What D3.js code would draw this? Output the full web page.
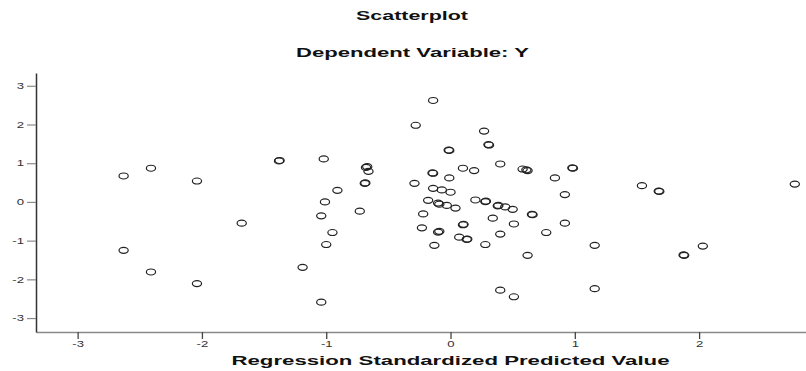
<!DOCTYPE html>
<html>
<head>
<meta charset="utf-8">
<script src="https://cdn.jsdelivr.net/npm/d3@7"></script>
<style>
  html, body { margin: 0; padding: 0; background: #fff; }
  svg { display: block; font-family: "Liberation Sans", Arial, sans-serif; }
</style>
</head>
<body>
<div id="chart"></div>
<script>
// Regression standardized predicted value (x) vs standardized residual (y)
const predicted = [
  -2.63, -2.41, -2.04, -1.38, -1.375, -1.68, -2.63, -2.41, -2.04, -1.19,
  -0.14, -0.28, 0.27, 0.31, 0.305, -0.01, -0.015, -1.02, -0.68, -0.67,
  -0.66, 0.10, 0.19, 0.40, 0.58, 0.62, 0.61, 0.84, -0.14, -0.145,
  -0.01, -0.29, -0.69, -0.685, -0.91, -0.14, -0.07, 0.00, -1.01, -0.73,
  -1.04, -0.18, -0.09, -0.10, -0.03, 0.04, 0.20, 0.28, 0.285, 0.38,
  0.385, 0.44, 0.50, 0.66, 0.655, 0.34, 0.51, 0.77, -0.22, 0.10,
  0.105, -0.23, -0.10, -0.09, 0.07, 0.13, 0.135, 0.40, -0.95, -1.00,
  -0.13, 0.28, 0.62, -1.04, 0.40, 0.51, 0.985, 0.98, 0.92, 1.54,
  1.68, 1.675, 2.77, 0.92, 1.16, 2.03, 1.88, 1.875, 1.16
];
const residual = [
  0.67, 0.87, 0.54, 1.06, 1.07, -0.55, -1.25, -1.81, -2.11, -1.69,
  2.62, 1.98, 1.83, 1.47, 1.48, 1.33, 1.34, 1.11, 0.89, 0.91,
  0.79, 0.87, 0.81, 0.98, 0.85, 0.81, 0.83, 0.62, 0.74, 0.75,
  0.62, 0.48, 0.48, 0.49, 0.30, 0.35, 0.31, 0.25, 0.00, -0.24,
  -0.36, 0.04, -0.06, -0.03, -0.09, -0.16, 0.05, 0.01, 0.02, -0.10,
  -0.09, -0.13, -0.19, -0.33, -0.32, -0.42, -0.57, -0.79, -0.31, -0.59,
  -0.58, -0.67, -0.78, -0.76, -0.91, -0.97, -0.96, -0.83, -0.79, -1.10,
  -1.12, -1.10, -1.38, -2.59, -2.28, -2.45, 0.87, 0.88, 0.19, 0.42,
  0.27, 0.28, 0.46, -0.55, -1.12, -1.14, -1.38, -1.37, -2.24
];
const xTicks = [-3, -2, -1, 0, 1, 2];
const yTicks = [-3, -2, -1, 0, 1, 2, 3];

const width = 806, height = 371;
const labelStretch = 1.55; // the source image is stretched horizontally

const svg = d3.select('#chart').append('svg')
  .attr('width', width)
  .attr('height', height);

const x = d3.scaleLinear().domain([-3.335, 2.86]).range([36, 806]);
const y = d3.scaleLinear().domain([-3.36, 3.33]).range([332, 73]);
const fmt = d => String(d); // plain hyphen minus, like the original

// Titles
function stretchedText(cx, cy, txt, k) {
  svg.append('text')
    .attr('transform', `translate(${cx},${cy}) scale(${k},1)`)
    .attr('text-anchor', 'middle')
    .attr('font-size', '13px')
    .attr('font-weight', 'bold')
    .attr('fill', '#111')
    .text(txt);
}
stretchedText(412, 20, 'Scatterplot', 1.65);
stretchedText(412.5, 56.5, 'Dependent Variable: Y', 1.70);
stretchedText(450.5, 365, 'Regression Standardized Predicted Value', 1.71);

// X axis
const xAxis = svg.append('g')
  .attr('transform', `translate(0,${y.range()[0]})`)
  .call(d3.axisBottom(x).tickValues(xTicks).tickFormat(fmt).tickSize(7).tickSizeOuter(0).tickPadding(2));
xAxis.select('.domain').attr('stroke', '#8a8a8a').attr('stroke-width', 1.3);
xAxis.selectAll('.tick line').attr('stroke', '#444').attr('stroke-width', 1.3);
xAxis.selectAll('.tick text')
  .attr('font-size', '8.5px')
  .attr('fill', '#333')
  .attr('font-family', '"Liberation Sans", Arial, sans-serif')
  .attr('transform', `scale(${labelStretch},1)`);

// Y axis
const yAxis = svg.append('g')
  .attr('transform', `translate(${x.range()[0]},0)`)
  .call(d3.axisLeft(y).tickValues(yTicks).tickFormat(fmt).tickSize(9).tickSizeOuter(0).tickPadding(3));
yAxis.select('.domain').attr('stroke', '#333').attr('stroke-width', 1.5);
yAxis.selectAll('.tick line').attr('stroke', '#8a8a8a').attr('stroke-width', 1.2);
yAxis.selectAll('.tick text')
  .attr('font-size', '8.5px')
  .attr('fill', '#333')
  .attr('font-family', '"Liberation Sans", Arial, sans-serif')
  .attr('x', -12 / labelStretch)
  .attr('transform', `scale(${labelStretch},1)`);

// Points
svg.append('g')
  .selectAll('ellipse')
  .data(d3.range(predicted.length))
  .join('ellipse')
  .attr('cx', i => x(predicted[i]))
  .attr('cy', i => y(residual[i]))
  .attr('rx', 4.6)
  .attr('ry', 3)
  .attr('fill', 'none')
  .attr('stroke', '#222')
  .attr('stroke-width', 1.2);
</script>
</body>
</html>
